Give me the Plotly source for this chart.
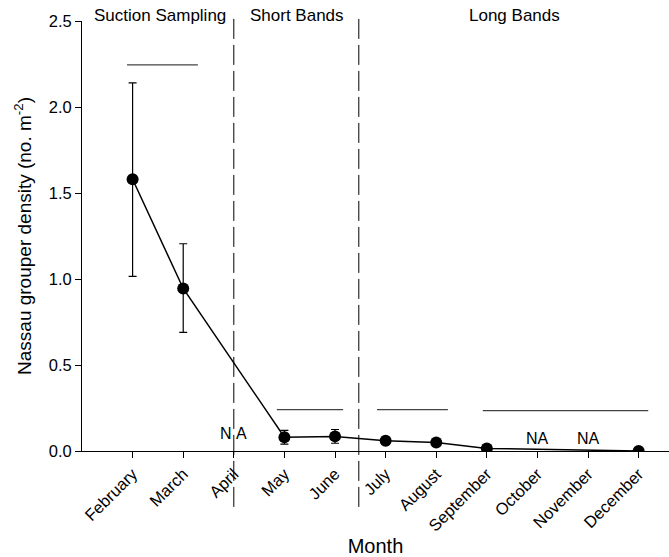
import plotly.graph_objects as go

months = ["February", "March", "April", "May", "June", "July", "August",
          "September", "October", "November", "December"]
month_num = [2, 3, 4, 5, 6, 7, 8, 9, 10, 11, 12]
density = [1.58, 0.945, None, 0.08, 0.085, 0.06, 0.05, 0.015, None, None, 0.0]
err_plus = [0.56, 0.26, None, 0.04, 0.04, 0.0, 0.0, 0.0, None, None, 0.0]
err_minus = [0.565, 0.255, None, 0.04, 0.04, 0.0, 0.0, 0.0, None, None, 0.0]

# significance (grouping) bars
sig_x0 = [1.89, 4.85, 6.83, 8.92]
sig_x1 = [3.29, 6.16, 8.23, 12.19]
sig_y = [2.245, 0.24, 0.24, 0.235]

# method section boundaries and labels
section_bounds = [4.0, 6.47]
section_labels = ["Suction Sampling", "Short Bands", "Long Bands"]
section_label_x = [2.55, 5.25, 9.55]

na_months = [4, 10, 11]
na_text = ["N&nbsp;A", "NA", "NA"]
na_y = [0.1, 0.075, 0.075]

FONT = "Arial, Liberation Sans, sans-serif"

fig = go.Figure()
fig.add_trace(go.Scatter(
    x=month_num, y=density, mode="lines+markers", connectgaps=True,
    line=dict(color="black", width=1.5),
    marker=dict(color="black", size=12),
    error_y=dict(type="data", symmetric=False, array=err_plus, arrayminus=err_minus,
                 color="black", thickness=1.2, width=4),
    showlegend=False,
))

for x0, x1, y in zip(sig_x0, sig_x1, sig_y):
    fig.add_shape(type="line", x0=x0, x1=x1, y0=y, y1=y, xref="x", yref="y",
                  line=dict(color="#444", width=1.2))

for xb in section_bounds:
    fig.add_shape(type="line", x0=xb, x1=xb, y0=-0.13, y1=1.007, xref="x", yref="paper",
                  line=dict(color="black", width=1, dash="20px,6px"))

for lbl, lx in zip(section_labels, section_label_x):
    fig.add_annotation(x=lx, y=1, xref="x", yref="paper", text=lbl, showarrow=False,
                       font=dict(family=FONT, size=17, color="black"),
                       yanchor="middle", yshift=6)

for nx, nt, ny in zip(na_months, na_text, na_y):
    fig.add_annotation(x=nx, y=ny, xref="x", yref="y", text=nt, showarrow=False,
                       font=dict(family=FONT, size=16, color="black"))

fig.update_layout(
    width=669, height=557,
    margin=dict(l=82, r=0, t=21, b=106),
    plot_bgcolor="white", paper_bgcolor="white",
    font=dict(family=FONT, color="black"),
    xaxis=dict(range=[1, 12.6], tickmode="array", tickvals=month_num, ticktext=months,
               tickangle=-45, ticks="outside", ticklen=6, tickcolor="black",
               showline=True, linecolor="black", linewidth=1, showgrid=False,
               zeroline=False, tickfont=dict(family=FONT, size=16.5), automargin=False,
               title=dict(text="Month", font=dict(family=FONT, size=20), standoff=6)),
    yaxis=dict(range=[0, 2.5], tickvals=[0, 0.5, 1.0, 1.5, 2.0, 2.5], tickformat=".1f",
               ticks="outside", ticklen=6, tickcolor="black",
               showline=True, linecolor="black", linewidth=1, showgrid=False,
               zeroline=False, tickfont=dict(family=FONT, size=16.5), automargin=False,
               title=dict(text="Nassau grouper density (no. m<sup>-2</sup>)",
                          font=dict(family=FONT, size=19), standoff=12)),
)

fig.write_html("out.html", config={"displayModeBar": False},
               post_script="document.body.style.margin='0';document.body.style.overflow='hidden';")
